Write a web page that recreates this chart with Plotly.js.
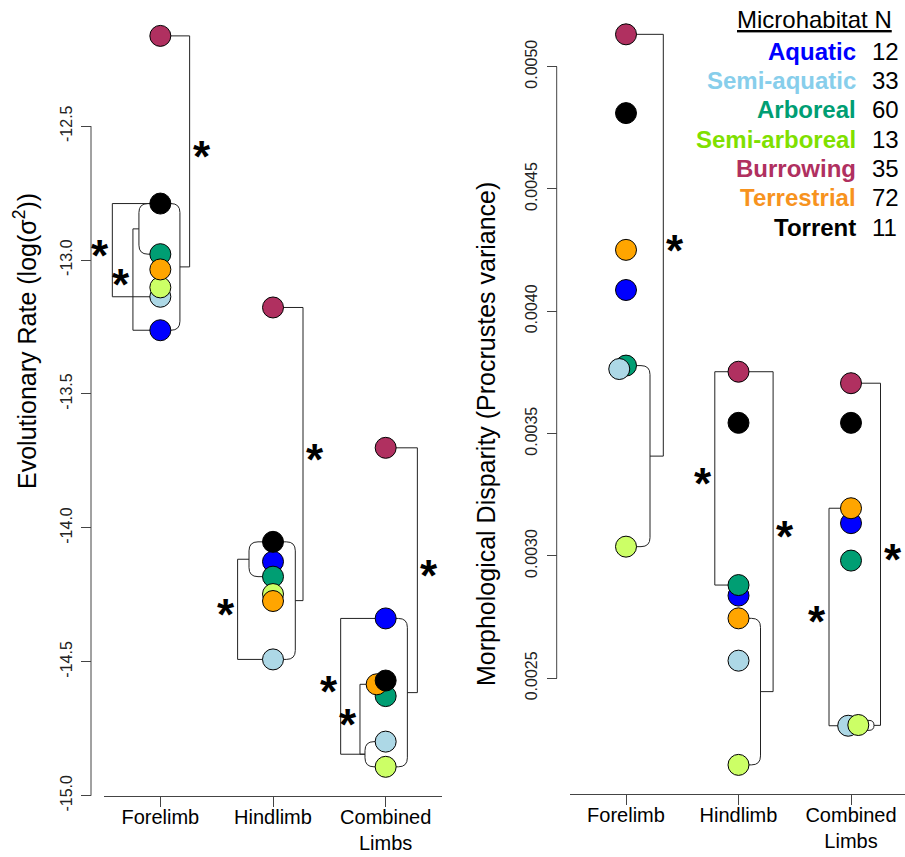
<!DOCTYPE html>
<html><head><meta charset="utf-8">
<script src="https://cdn.plot.ly/plotly-3.0.1.min.js"></script>
<style>html,body{margin:0;padding:0;background:#fff}#chart{width:905px;height:857px}</style>
</head><body><div id="chart"></div>
<script>
const W = 905, H = 857;
const FONT = 'Liberation Sans, Arial, Helvetica, sans-serif';

// ---------------- data ----------------
const categories = ['Forelimb', 'Hindlimb', 'Combined Limbs'];
const categoryTickLabels = ['Forelimb', 'Hindlimb', 'Combined<br>Limbs'];
const habitats = ['Aquatic', 'Semi-aquatic', 'Arboreal', 'Semi-arboreal', 'Burrowing', 'Terrestrial', 'Torrent'];
const habitatN = [12, 33, 60, 13, 35, 72, 11];
const habitatColors = ['#0000FF', '#ADD8E6', '#009E73', '#CCFF66', '#B03060', '#FFA500', '#000000'];
const habitatTextColors = ['#0000FF', '#87CEEB', '#009E73', '#7FE000', '#B03060', '#F7931E', '#000000'];

// Evolutionary rate log(sigma^2): Forelimb, Hindlimb, Combined
const rateAquatic = [-13.262, -14.126, -14.338];
const rateSemiAquatic = [-13.137, -14.491, -14.798];
const rateArboreal = [-12.978, -14.182, -14.628];
const rateSemiArboreal = [-13.102, -14.247, -14.892];
const rateBurrowing = [-12.163, -13.177, -13.701];
const rateTerrestrial = [-13.035, -14.273, -14.584];
const rateTorrent = [-12.789, -14.052, -14.570];

// Morphological disparity (Procrustes variance): Forelimb, Hindlimb, Combined
const dispAquatic = [0.004087, 0.002838, 0.003134];
const dispSemiAquatic = [0.003764, 0.002572, 0.002306];
const dispArboreal = [0.003778, 0.002881, 0.002981];
const dispSemiArboreal = [0.003038, 0.002146, 0.002309];
const dispBurrowing = [0.005132, 0.003753, 0.003706];
const dispTerrestrial = [0.004251, 0.002745, 0.003195];
const dispTorrent = [0.004810, 0.003544, 0.003544];

// horizontal jitter of overlapping points (category units)
const rateJitterTerrestrial = [0, 0, -0.08];
const dispJitterSemiAquatic = [-0.06, 0, -0.025];
const dispJitterSemiArboreal = [0, 0, 0.065];

const rateTicks = [-15.0, -14.5, -14.0, -13.5, -13.0, -12.5];
const rateTickLabels = ['-15.0', '-14.5', '-14.0', '-13.5', '-13.0', '-12.5'];
const dispTicks = [0.0025, 0.0030, 0.0035, 0.0040, 0.0045, 0.0050];
const dispTickLabels = ['0.0025', '0.0030', '0.0035', '0.0040', '0.0045', '0.0050'];

// ---------------- setup ----------------
const rateData = {'Aquatic': rateAquatic, 'Semi-aquatic': rateSemiAquatic, 'Arboreal': rateArboreal,
  'Semi-arboreal': rateSemiArboreal, 'Burrowing': rateBurrowing, 'Terrestrial': rateTerrestrial, 'Torrent': rateTorrent};
const dispData = {'Aquatic': dispAquatic, 'Semi-aquatic': dispSemiAquatic, 'Arboreal': dispArboreal,
  'Semi-arboreal': dispSemiArboreal, 'Burrowing': dispBurrowing, 'Terrestrial': dispTerrestrial, 'Torrent': dispTorrent};
const rateJitter = {'Terrestrial': rateJitterTerrestrial};
const dispJitter = {'Semi-aquatic': dispJitterSemiAquatic, 'Semi-arboreal': dispJitterSemiArboreal};
const drawOrder = ['Aquatic', 'Arboreal', 'Semi-aquatic', 'Semi-arboreal', 'Burrowing', 'Terrestrial', 'Torrent'];

const panels = {
  L: {xref: 'x', yref: 'y', xDom: [104, 442], yDom: [15, 796], xRange: [0.5, 3.5], yRange: [-15.001, -12.085],
      data: rateData, jitter: rateJitter, axisX: 91},
  R: {xref: 'x2', yref: 'y2', xDom: [569.75, 905], yDom: [15, 794], xRange: [0.5, 3.48], yRange: [0.002027, 0.005211],
      data: dispData, jitter: dispJitter, axisX: 556.7}
};
for (const k in panels) {
  const P = panels[k];
  P.px = (P.xDom[1] - P.xDom[0]) / (P.xRange[1] - P.xRange[0]);
  P.py = (P.yDom[1] - P.yDom[0]) / (P.yRange[1] - P.yRange[0]);
}

const traces = [];
for (const k of ['L', 'R']) {
  const P = panels[k];
  for (const h of drawOrder) {
    const j = P.jitter[h] || [0, 0, 0];
    traces.push({
      type: 'scatter', mode: 'markers', xaxis: P.xref, yaxis: P.yref, name: h, showlegend: false,
      x: [1, 2, 3].map((c, i) => c + j[i]), y: P.data[h], cliponaxis: false,
      marker: {size: 21, color: habitatColors[habitats.indexOf(h)], line: {color: '#000', width: 1}}
    });
  }
}

// significance brackets
const groups = {
  LF_R: {panel: 'L', cat: 0, side: 1, members: ['Torrent', 'Arboreal', 'Terrestrial', 'Semi-arboreal', 'Semi-aquatic', 'Aquatic'], dx: 19.6},
  LF_L: {panel: 'L', cat: 0, side: -1, members: ['Torrent', 'Arboreal'], dx: 21.4},
  LH_R: {panel: 'L', cat: 1, side: 1, members: ['Torrent', 'Aquatic', 'Arboreal', 'Semi-arboreal', 'Terrestrial', 'Semi-aquatic'], dx: 22.3},
  LH_L: {panel: 'L', cat: 1, side: -1, members: ['Torrent', 'Aquatic', 'Arboreal'], dx: 24},
  LC_R: {panel: 'L', cat: 2, side: 1, members: ['Aquatic', 'Terrestrial', 'Torrent', 'Arboreal', 'Semi-aquatic', 'Semi-arboreal'], dx: 21.7},
  LC_L: {panel: 'L', cat: 2, side: -1, members: ['Semi-aquatic', 'Semi-arboreal'], dx: 20.7},
  RF_R: {panel: 'R', cat: 0, side: 1, members: ['Arboreal', 'Semi-aquatic', 'Semi-arboreal'], dx: 24},
  RH_R: {panel: 'R', cat: 1, side: 1, members: ['Terrestrial', 'Semi-aquatic', 'Semi-arboreal'], dx: 22},
  RC_R: {panel: 'R', cat: 2, side: 1, members: ['Semi-aquatic', 'Semi-arboreal'], dx: 23}
};
const brackets = [
  {panel: 'L', cat: 0, side: 1, top: 'Burrowing', bottom: 'LF_R', dx: 29.3},
  {panel: 'L', cat: 0, side: -1, top: 'Torrent', bottom: 'Semi-aquatic', dx: 48},
  {panel: 'L', cat: 0, side: -1, top: 'LF_L', bottom: 'Aquatic', dx: 27.4},
  {panel: 'L', cat: 1, side: 1, top: 'Burrowing', bottom: 'LH_R', dx: 30},
  {panel: 'L', cat: 1, side: -1, top: 'LH_L', bottom: 'Semi-aquatic', dx: 35.4},
  {panel: 'L', cat: 2, side: 1, top: 'Burrowing', bottom: 'LC_R', dx: 31.7},
  {panel: 'L', cat: 2, side: -1, top: 'Aquatic', bottom: 'LC_L', dx: 45},
  {panel: 'L', cat: 2, side: -1, top: 'Terrestrial', bottom: 'LC_L', dx: 25.7},
  {panel: 'R', cat: 0, side: 1, top: 'Burrowing', bottom: 'RF_R', dx: 37.3},
  {panel: 'R', cat: 1, side: -1, top: 'Burrowing', bottom: 'Arboreal', dx: 23.7},
  {panel: 'R', cat: 1, side: 1, top: 'Burrowing', bottom: 'RH_R', dx: 34.6},
  {panel: 'R', cat: 2, side: -1, top: 'Terrestrial', bottom: 'Semi-aquatic', dx: 22},
  {panel: 'R', cat: 2, side: 1, top: 'Burrowing', bottom: 'RC_R', dx: 29.5}
];

const LINE = {color: '#222', width: 1};
const shapes = [];
const annotations = [];
const f = v => Number(v).toFixed(8);

const groupEnds = {};
for (const id in groups) {
  const g = groups[id], P = panels[g.panel];
  const vals = g.members.map(h => P.data[h][g.cat]);
  let hi = Math.max(...vals), lo = Math.min(...vals);
  const r = 9;
  let rx = r, ry = r;
  const spanPx = (hi - lo) * P.py;
  if (spanPx < 2 * r) {
    const s = Math.max(spanPx, 10), mid = (hi + lo) / 2;
    hi = mid + s / 2 / P.py; lo = mid - s / 2 / P.py; rx = ry = s / 2;
  }
  const xc = g.cat + 1, xv = xc + g.side * g.dx / P.px;
  const rxd = rx / P.px, ryd = ry / P.py;
  const path = `M${f(xc)},${f(hi)} L${f(xv - g.side * rxd)},${f(hi)} Q${f(xv)},${f(hi)} ${f(xv)},${f(hi - ryd)} ` +
    `L${f(xv)},${f(lo + ryd)} Q${f(xv)},${f(lo)} ${f(xv - g.side * rxd)},${f(lo)} L${f(xc)},${f(lo)}`;
  shapes.push({type: 'path', xref: P.xref, yref: P.yref, path: path, line: LINE, layer: 'below'});
  groupEnds[id] = {x: xv, y: (hi + lo) / 2};
}

function endPoint(P, cat, spec) {
  if (groups[spec]) return groupEnds[spec];
  const j = P.jitter[spec] || [0, 0, 0];
  return {x: cat + 1 + j[cat], y: P.data[spec][cat]};
}

for (const b of brackets) {
  const P = panels[b.panel];
  const a = endPoint(P, b.cat, b.top), c = endPoint(P, b.cat, b.bottom);
  const xv = b.cat + 1 + b.side * b.dx / P.px;
  const path = `M${f(a.x)},${f(a.y)} L${f(xv)},${f(a.y)} L${f(xv)},${f(c.y)} L${f(c.x)},${f(c.y)}`;
  shapes.push({type: 'path', xref: P.xref, yref: P.yref, path: path, line: LINE, layer: 'below'});
  annotations.push({xref: P.xref, yref: P.yref, x: xv, y: (a.y + c.y) / 2, xshift: b.side * 12, yshift: -5,
    text: '<b>*</b>', showarrow: false, font: {family: FONT, size: 44, color: '#000'}});
}

// axis lines (R style: spanning first to last tick)
shapes.push({type: 'line', xref: 'paper', yref: 'y', x0: panels.L.axisX / W, x1: panels.L.axisX / W,
  y0: rateTicks[0], y1: rateTicks[rateTicks.length - 1], line: {color: '#444', width: 1}});
shapes.push({type: 'line', xref: 'paper', yref: 'y2', x0: panels.R.axisX / W, x1: panels.R.axisX / W,
  y0: dispTicks[0], y1: dispTicks[dispTicks.length - 1], line: {color: '#444', width: 1}});

// axis titles
annotations.push({xref: 'paper', yref: 'paper', x: 25 / W, y: 1 - 341 / H, xanchor: 'center', yanchor: 'middle',
  textangle: -90, showarrow: false, text: 'Evolutionary Rate (log(σ<sup>2</sup>))', font: {family: FONT, size: 25, color: '#000'}});
annotations.push({xref: 'paper', yref: 'paper', x: 486 / W, y: 1 - 434 / H, xanchor: 'center', yanchor: 'middle',
  textangle: -90, showarrow: false, text: 'Morphological Disparity (Procrustes variance)', font: {family: FONT, size: 25, color: '#000'}});

// legend (text table)
annotations.push({xref: 'paper', yref: 'paper', x: 894 / W, y: 1 - 19 / H, xanchor: 'right', yanchor: 'middle',
  showarrow: false, text: '<u>Microhabitat N</u>', font: {family: FONT, size: 24, color: '#000'}});
habitats.forEach((h, i) => {
  const yy = 1 - (51 + 29.4 * i) / H;
  annotations.push({xref: 'paper', yref: 'paper', x: 858 / W, y: yy, xanchor: 'right', yanchor: 'middle',
    showarrow: false, text: '<b>' + h + '</b>', font: {family: FONT, size: 24, color: habitatTextColors[i]}});
  annotations.push({xref: 'paper', yref: 'paper', x: 870 / W, y: yy, xanchor: 'left', yanchor: 'middle',
    showarrow: false, text: String(habitatN[i]), font: {family: FONT, size: 24, color: '#000'}});
});

function xAxis(P, anchor) {
  return {domain: [P.xDom[0] / W, P.xDom[1] / W], range: P.xRange, anchor: anchor,
    tickmode: 'array', tickvals: [1, 2, 3], ticktext: categoryTickLabels,
    ticks: 'outside', ticklen: 10, tickwidth: 1, tickcolor: '#444', ticklabelstandoff: -7,
    showline: true, linecolor: '#444', linewidth: 1, showgrid: false, zeroline: false,
    tickfont: {family: FONT, size: 20, color: '#000'}, fixedrange: true};
}
function yAxis(P, vals, texts) {
  return {domain: [1 - P.yDom[1] / H, 1 - P.yDom[0] / H], range: P.yRange, anchor: 'free', position: P.axisX / W,
    tickmode: 'array', tickvals: vals, ticktext: texts, tickangle: -90,
    ticks: 'outside', ticklen: 10, tickwidth: 1, tickcolor: '#444', ticklabelstandoff: 3,
    showline: false, showgrid: false, zeroline: false,
    tickfont: {family: FONT, size: 16, color: '#222'}, fixedrange: true};
}

const layout = {
  width: W, height: H, margin: {l: 0, r: 0, t: 0, b: 0},
  paper_bgcolor: '#fff', plot_bgcolor: 'rgba(0,0,0,0)', showlegend: false,
  font: {family: FONT, color: '#000'},
  xaxis: xAxis(panels.L, 'y'), yaxis: yAxis(panels.L, rateTicks, rateTickLabels),
  xaxis2: xAxis(panels.R, 'y2'), yaxis2: yAxis(panels.R, dispTicks, dispTickLabels),
  shapes: shapes, annotations: annotations
};

Plotly.newPlot('chart', traces, layout, {staticPlot: true, displayModeBar: false});
</script>
</body></html>
